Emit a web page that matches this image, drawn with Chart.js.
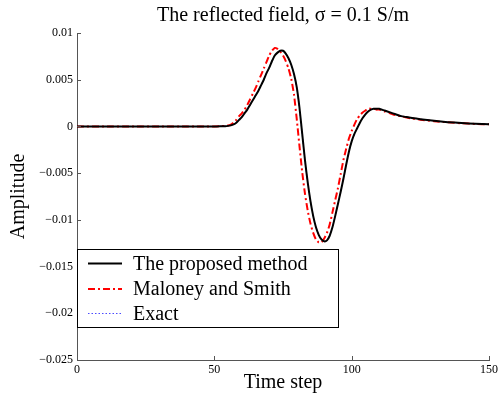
<!DOCTYPE html>
<html><head><meta charset="utf-8">
<script src="https://cdn.jsdelivr.net/npm/chart.js@4/dist/chart.umd.min.js"></script>
<style>html,body{margin:0;padding:0;background:#fff}canvas{display:block}</style>
</head><body>
<canvas id="c" width="501" height="402"></canvas>
<script>
// ---------- DATA ----------
const timeSteps = [0,10,20,30,40,45,50,52,54,
  55,56,57,58,59,60,61,62,63,64,65,66,67,68,69,70,71,72,73,74,75,76,77,78,79,80,
  81,82,83,84,85,86,87,88,89,90,91,92,93,94,95,96,97,98,99,100,101,102,103,104,105,106,107,108,109,110,
  112,114,116,118,120,122,125,130,135,140,145,150];

const proposedMethod = [0,0,0,0,0,0,0,0.00001,0.00003,
  0.00006,0.00011,0.00021,0.0004,0.0007,0.0010,0.0014,0.0018,0.0023,0.0028,0.0033,0.0038,0.0044,0.0050,0.0057,0.0063,
  0.0070,0.0076,0.0079,0.0081,0.0081,0.0078,0.0073,0.0066,0.0056,0.0042,
  0.0020,-0.0008,-0.0036,-0.0060,-0.0080,-0.0096,-0.0108,-0.0116,-0.0121,-0.0123,
  -0.0122,-0.0117,-0.0108,-0.0096,-0.0083,-0.0070,-0.0056,-0.0041,-0.0027,-0.0016,
  -0.0008,-0.0002,0.0004,0.0009,0.0013,0.0016,0.0018,0.0019,0.0019,0.0019,
  0.0017,0.0015,0.0013,0.0011,0.0010,0.0009,0.00078,0.0006,0.00046,0.00036,0.00029,0.00023];

const maloneySmith = [0,0,0,0,0,0,0,0.00002,0.00006,
  0.0001,0.0002,0.0004,0.0007,0.0011,0.0014,0.0018,0.0023,0.0029,0.0035,0.0041,0.0048,0.0055,0.0062,0.0069,0.0076,
  0.0081,0.0084,0.0083,0.0080,0.0076,0.0070,0.0062,0.0051,0.0034,0.0008,
  -0.0021,-0.0049,-0.0072,-0.0090,-0.0104,-0.0114,-0.0121,-0.0124,-0.0124,-0.0120,
  -0.0114,-0.0105,-0.0092,-0.0079,-0.0066,-0.0051,-0.0036,-0.0024,-0.0013,-0.0005,
  0.0002,0.0008,0.0012,0.0015,0.0017,0.0019,0.0019,0.0019,0.0018,0.0018,
  0.0016,0.0014,0.0012,0.0011,0.00095,0.00085,0.00072,0.00056,0.00044,0.00034,0.00027,0.00022];

const exactSolution = [0,0,0,0,0,0,0,0.00001,0.00003,
  0.00007,0.00012,0.00022,0.00042,0.00072,0.00104,0.00143,0.00184,0.00232,0.00283,0.00334,0.00385,0.00445,0.00506,0.00575,0.00636,
  0.00703,0.00761,0.00791,0.0081,0.00809,0.00778,0.00727,0.00655,0.00552,0.00412,
  0.00192,-0.00088,-0.00366,-0.00604,-0.00802,-0.00961,-0.01081,-0.0116,-0.01208,-0.01228,
  -0.01218,-0.01166,-0.01077,-0.00957,-0.00826,-0.00695,-0.00555,-0.00406,-0.00267,-0.00157,
  -0.00078,-0.00018,0.00041,0.00091,0.0013,0.0016,0.0018,0.0019,0.0019,0.0019,
  0.0017,0.0015,0.0013,0.0011,0.001,0.0009,0.00078,0.0006,0.00046,0.00036,0.00029,0.00024];

const seriesNames = ['The proposed method', 'Maloney and Smith', 'Exact'];
const xTickValues = [0, 50, 100, 150];
const yTickValues = [0.01, 0.005, 0, -0.005, -0.01, -0.015, -0.02, -0.025];
const yTickLabels = ['0.01', '0.005', '0', '\u22120.005', '\u22120.01', '\u22120.015', '\u22120.02', '\u22120.025'];
const chartTitle = 'The reflected field, \u03c3 = 0.1 S/m';
const xAxisTitle = 'Time step';
const yAxisTitle = 'Amplitude';

// ---------- STYLE ----------
const FONT = "'Liberation Serif','Times New Roman',serif";
Chart.defaults.font.family = FONT;
Chart.defaults.color = '#000';
const AXIS = '#555';
const styles = [
  {borderColor: '#000000', borderWidth: 2, borderDash: []},
  {borderColor: '#ff0000', borderWidth: 2, borderDash: [7, 3, 2, 3]},
  {borderColor: '#4a4aff', borderWidth: 1, borderDash: [1.5, 2]}
];
const seriesData = [proposedMethod, maloneySmith, exactSolution];

const datasets = seriesData.map((arr, i) => ({
  label: seriesNames[i],
  data: arr.map((v, k) => ({x: timeSteps[k], y: v})),
  borderColor: styles[i].borderColor,
  borderWidth: styles[i].borderWidth,
  borderDash: styles[i].borderDash,
  pointRadius: 0,
  tension: 0.2,
  fill: false
}));

const decor = {
  id: 'decor',
  afterDraw(chart) {
    const {ctx, chartArea: a, scales: {x, y}} = chart;
    ctx.save();
    ctx.strokeStyle = AXIS; ctx.lineWidth = 1; ctx.setLineDash([]);
    ctx.beginPath();
    yTickValues.forEach(v => {
      const py = Math.round(y.getPixelForValue(v)) + 0.5;
      ctx.moveTo(a.left, py); ctx.lineTo(a.left + 4, py);
    });
    xTickValues.forEach(v => {
      const px = Math.round(x.getPixelForValue(v)) + 0.5;
      ctx.moveTo(px, a.bottom); ctx.lineTo(px, a.bottom - 4);
    });
    ctx.stroke();
    ctx.fillStyle = '#000';
    ctx.font = '20px ' + FONT;
    ctx.textAlign = 'center'; ctx.textBaseline = 'middle';
    ctx.fillText(chartTitle, (a.left + a.right) / 2, 16);
    const bx = a.left + 0.5, by = 249.5, bw = 261, bh = 78;
    ctx.fillStyle = '#fff';
    ctx.fillRect(bx, by, bw, bh);
    ctx.strokeStyle = '#000'; ctx.lineWidth = 1;
    ctx.strokeRect(bx, by, bw, bh);
    const rows = [263.5, 289, 313.5];
    ctx.textAlign = 'left';
    rows.forEach((ry, i) => {
      ctx.strokeStyle = styles[i].borderColor;
      ctx.lineWidth = styles[i].borderWidth;
      ctx.setLineDash(styles[i].borderDash);
      ctx.beginPath();
      ctx.moveTo(a.left + 11, ry); ctx.lineTo(a.left + 45, ry);
      ctx.stroke();
      ctx.setLineDash([]);
      ctx.fillStyle = '#000';
      ctx.fillText(seriesNames[i], a.left + 56, ry + 1);
    });
    ctx.restore();
  }
};

new Chart(document.getElementById('c'), {
  type: 'line',
  data: {datasets},
  options: {
    responsive: false,
    animation: false,
    layout: {padding: {top: 33, right: 9, left: 0, bottom: 0}},
    plugins: {legend: {display: false}, title: {display: false}, tooltip: {enabled: false}},
    scales: {
      x: {
        type: 'linear', min: 0, max: 150,
        afterBuildTicks: s => { s.ticks = xTickValues.map(v => ({value: v})); },
        afterFit: s => { s.height = 42; },
        grid: {display: true, drawOnChartArea: false, drawTicks: false},
        border: {display: true, color: AXIS, width: 1},
        ticks: {font: {size: 12}, padding: 3, maxRotation: 0, color: '#000'},
        title: {display: true, text: xAxisTitle, font: {size: 20}, padding: {top: 0, bottom: 7}, color: '#000'}
      },
      y: {
        type: 'linear', min: -0.025, max: 0.01,
        afterBuildTicks: s => { s.ticks = yTickValues.map(v => ({value: v})); },
        afterFit: s => { s.width = 77; },
        grid: {display: true, drawOnChartArea: false, drawTicks: false},
        border: {display: true, color: AXIS, width: 1},
        ticks: {
          font: {size: 12}, padding: 4, color: '#000',
          callback: (v) => { const i = yTickValues.findIndex(t => Math.abs(t - v) < 1e-9); return i >= 0 ? yTickLabels[i] : ''; }
        },
        title: {display: true, text: yAxisTitle, font: {size: 20}, padding: {top: 7, bottom: 0}, color: '#000'}
      }
    }
  },
  plugins: [decor]
});
</script>
</body></html>
